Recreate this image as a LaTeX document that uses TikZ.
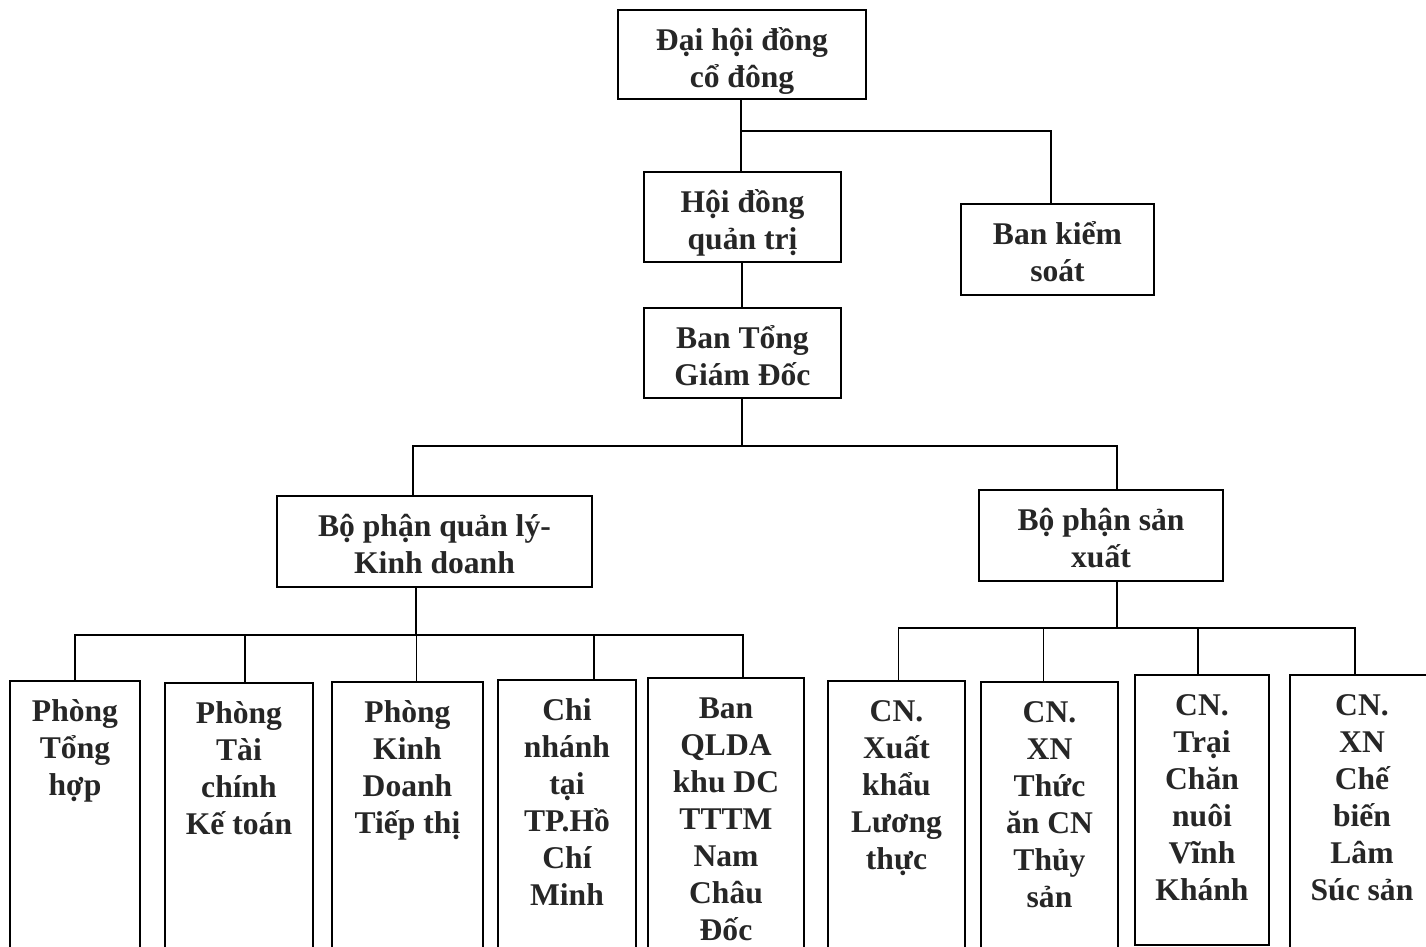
\documentclass[tikz,border=0pt]{standalone}
\usepackage{fontspec}
\setmainfont{Liberation Serif}
\usepackage{tikz}
\usetikzlibrary{fit, positioning}
\tikzset{
  box/.style={draw, line width=1.1pt, inner sep=0pt},
  boxtext/.style={anchor=north, inner sep=0pt, align=center, text=black!85,
    font=\fontsize{15.8}{18.5}\selectfont\bfseries},
  conn/.style={line width=0.9pt},
}
\newcommand{\topstrut}{\rule{0pt}{20.5pt}}

\begin{document}
\begin{tikzpicture}[x=0.5pt, y=-0.5pt]
\clip (0,0) rectangle (1426,947);
% upper levels
\node[box, fit={(618,10) (866,99)}] (dh) {};
\node[boxtext] (dhtext) at (dh.north) {\topstrut Đại hội đồng\\cổ đông};
\node[box, fit={(644,172) (841,262)}] (hdqt) {};
\node[boxtext] (hdqttext) at (hdqt.north) {\topstrut Hội đồng\\quản trị};
\node[box, fit={(961,204) (1154,295)}] (bks) {};
\node[boxtext] (bkstext) at (bks.north) {\topstrut Ban kiểm\\soát};
\node[box, fit={(644,308) (841,398)}] (btgd) {};
\node[boxtext] (btgdtext) at (btgd.north) {\topstrut Ban Tổng\\Giám Đốc};
\node[box, fit={(277,496) (592,587)}] (ql) {};
\node[boxtext] (qltext) at (ql.north) {\topstrut Bộ phận quản lý-\\Kinh doanh};
\node[box, fit={(979,490) (1223,581)}] (sx) {};
\node[boxtext] (sxtext) at (sx.north) {\topstrut Bộ phận sản\\xuất};
% management units
\node[box, fit={(10,681) (140,960)}] (pth) {};
\node[boxtext] (pthtext) at (pth.north) {\topstrut Phòng\\Tổng\\hợp};
\node[box, fit={(165,683) (313,960)}] (ptc) {};
\node[boxtext] (ptctext) at (ptc.north) {\topstrut Phòng\\Tài\\chính\\Kế toán};
\node[box, fit={(332,682) (483,960)}] (pkd) {};
\node[boxtext] (pkdtext) at (pkd.north) {\topstrut Phòng\\Kinh\\Doanh\\Tiếp thị};
\node[box, fit={(498,680) (636,960)}] (cnhcm) {};
\node[boxtext] (cnhcmtext) at (cnhcm.north) {\topstrut Chi\\nhánh\\tại\\TP.Hồ\\Chí\\Minh};
\node[box, fit={(648,678) (804,960)}] (qlda) {};
\node[boxtext] (qldatext) at (qlda.north) {\topstrut Ban\\QLDA\\khu DC\\TTTM\\Nam\\Châu\\Đốc};
% production units
\node[box, fit={(828,681) (965,960)}] (cnxk) {};
\node[boxtext] (cnxktext) at (cnxk.north) {\topstrut CN.\\Xuất\\khẩu\\Lương\\thực};
\node[box, fit={(981,682) (1118,960)}] (cnta) {};
\node[boxtext] (cntatext) at (cnta.north) {\topstrut CN.\\XN\\Thức\\ăn CN\\Thủy\\sản};
\node[box, fit={(1135,675) (1269,945)}] (cntr) {};
\node[boxtext] (cntrtext) at (cntr.north) {\topstrut CN.\\Trại\\Chăn\\nuôi\\Vĩnh\\Khánh};
\node[box, fit={(1290,675) (1434,960)}] (cncb) {};
\node[boxtext] (cncbtext) at (cncb.north) {\topstrut CN.\\XN\\Chế\\biến\\Lâm\\Súc sản};

% bus points
\coordinate (dhout) at (741,99);
\coordinate (bustop) at (741,131);
\coordinate (bksin) at (1051,204);
\coordinate (busmid) at (742,446);
\coordinate (qlin) at (413,496);
\coordinate (sxin) at (1117,490);
\coordinate (qlout) at (416,587);
\coordinate (busl) at (416,635);
\coordinate (sxout) at (1117,581);
\coordinate (busr) at (1117,628);

\draw[conn] (dhout) -- (hdqt.north -| dhout);
\draw[conn] (bustop) -| (bksin);
\draw[conn] (hdqt.south -| busmid) -- (btgd.north -| busmid);
\draw[conn] (btgd.south -| busmid) -- (busmid);
\draw[conn] (busmid) -| (qlin);
\draw[conn] (busmid) -| (sxin);
\draw[conn] (qlout) -- (busl);
\draw[conn] (busl) -| (pth.north);
\draw[conn] (busl) -| ([xshift=3pt]ptc.north);
\draw[conn] (busl) -| ([xshift=4.5pt]pkd.north);
\draw[conn] (busl) -| ([xshift=13.5pt]cnhcm.north);
\draw[conn] (busl) -| ([xshift=8.5pt]qlda.north);
\draw[conn] (sxout) -- (busr);
\draw[conn] (busr) -| ([xshift=1pt]cnxk.north);
\draw[conn] (busr) -| ([xshift=-3pt]cnta.north);
\draw[conn] (busr) -| ([xshift=-2pt]cntr.north);
\draw[conn] (busr) -| ([xshift=-3.5pt]cncb.north);
\end{tikzpicture}
\end{document}
